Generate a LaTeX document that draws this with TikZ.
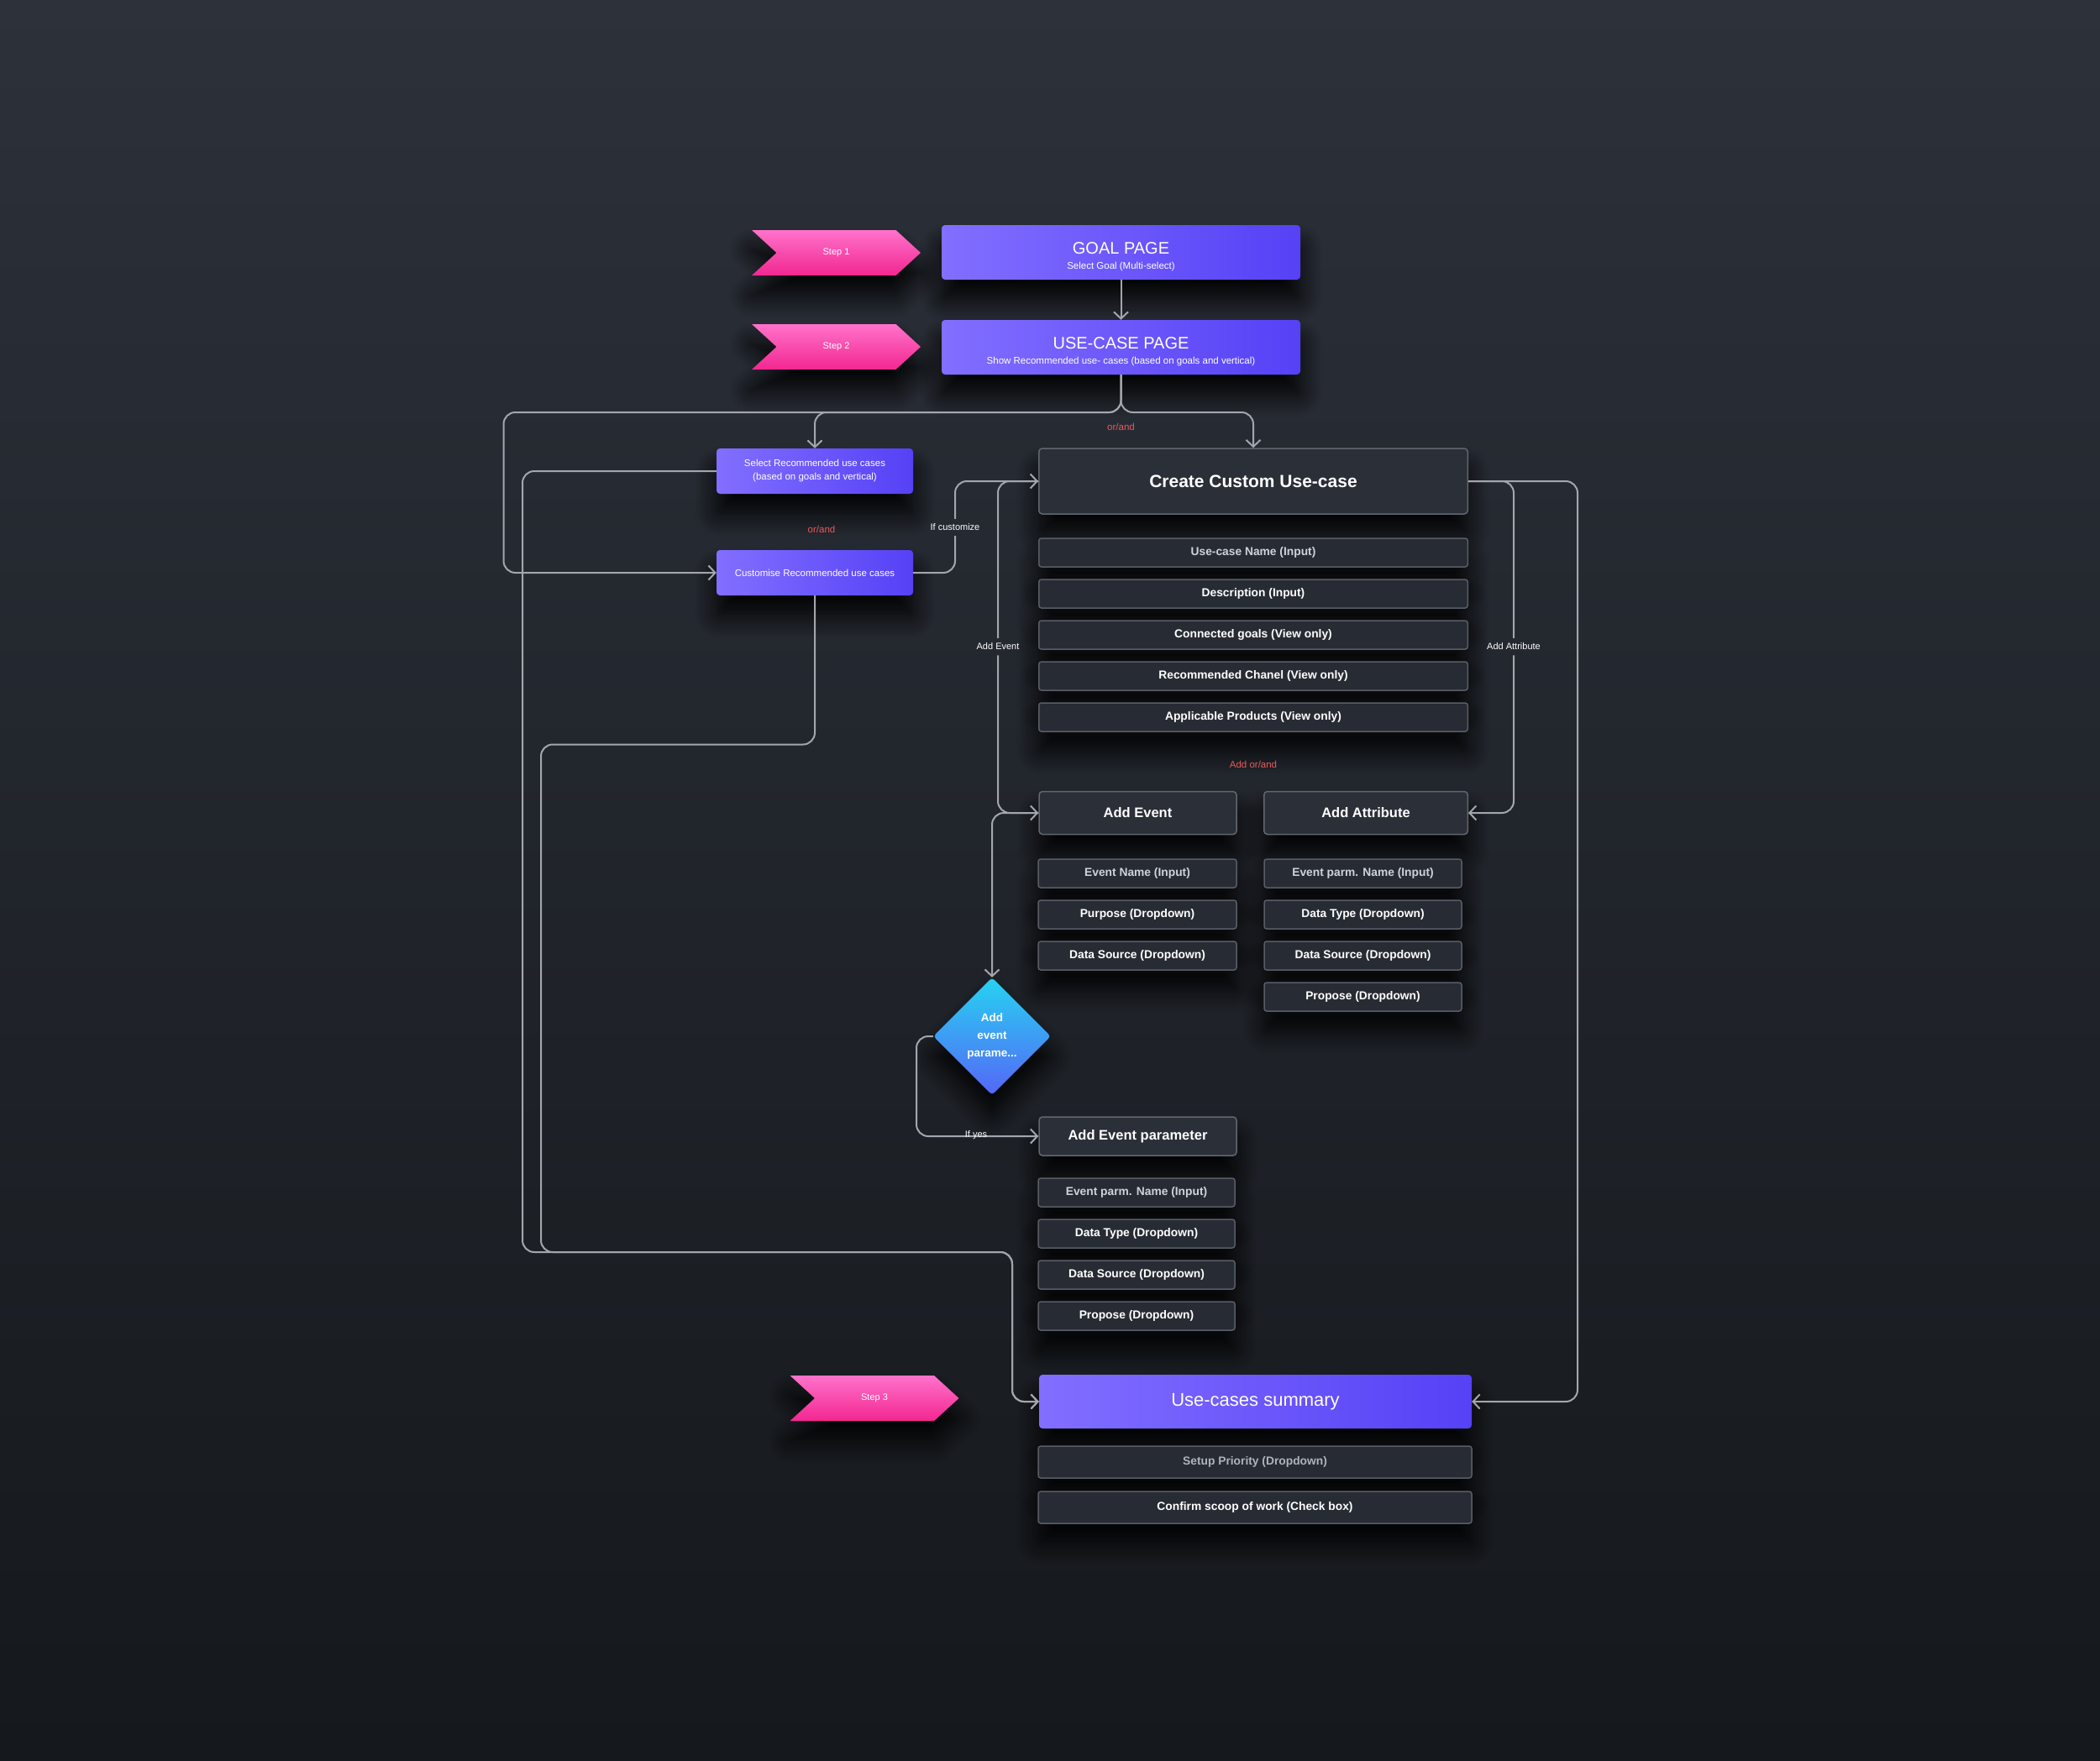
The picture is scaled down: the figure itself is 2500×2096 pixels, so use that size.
\documentclass[tikz,border=0pt]{standalone}
\usepackage{fontspec}
\setmainfont{Liberation Sans}
\usetikzlibrary{arrows.meta,shapes.symbols,shapes.geometric,shadows.blur,calc}
\newcommand\fsz[2]{\fontsize{#1}{#2}\selectfont}
\definecolor{bgT}{HTML}{2C313A}
\definecolor{bgB}{HTML}{15181C}
\definecolor{pL}{HTML}{826FFF}
\definecolor{pR}{HTML}{5641F6}
\definecolor{pkT}{HTML}{FF72CB}
\definecolor{pkB}{HTML}{F22790}
\definecolor{dF}{HTML}{2A2F38}
\definecolor{dB}{HTML}{62676F}
\definecolor{fF}{HTML}{272C34}
\definecolor{fB}{HTML}{585D66}
\definecolor{lc}{HTML}{A3A7AD}
\definecolor{rd}{HTML}{E55B5B}
\definecolor{cyT}{HTML}{26D3F2}
\definecolor{cyB}{HTML}{5566F6}
\definecolor{gt}{HTML}{D0D3D8}
\begin{document}
\begin{tikzpicture}[x=1pt,y=-1pt,
  shd/.style={blur shadow={shadow xshift=0pt,shadow yshift=-24pt,shadow blur radius=26pt,shadow opacity=95,shadow blur steps=14}},
  stepbox/.style={shd,signal,signal to=east,signal from=west,signal pointer angle=85,
    top color=pkT,bottom color=pkB,minimum width=201pt,minimum height=54pt,inner sep=0pt,
    text=white,font=\fsz{11}{13}},
  purplebox/.style={shd,rectangle,rounded corners=4pt,left color=pL,right color=pR,
    text=white,align=center,inner sep=0pt},
  pagetext/.style={text=white,align=center,inner sep=0pt,yshift=-5pt},
  darkmain/.style={shd,rectangle,rounded corners=4pt,fill=dF,draw=dB,line width=1.5pt,
    text=white,font=\bfseries,inner sep=0pt},
  field/.style={shd,rectangle,rounded corners=3pt,fill=fF,draw=fB,line width=1.5pt,
    text=white,font=\bfseries\fsz{13.8}{16},minimum height=34pt,inner sep=0pt},
  lbl/.style={text=white,font=\fsz{11}{13},inner sep=6pt},
  redlbl/.style={text=rd,font=\fsz{11.5}{13},inner sep=0pt},
  conn/.style={draw=lc,line width=2pt,rounded corners=14pt},
  arr/.style={conn,-{Straight Barb[length=8pt,width=17pt]}}
]
\useasboundingbox (0,0) rectangle (2500,2096);
\shade[top color=bgT,bottom color=bgB] (0,0) rectangle (2500,2096);

% coordinates used for routing
\coordinate (yS) at (0,491);
\coordinate (xL0) at (599.5,0);
\coordinate (xL1) at (622,0);
\coordinate (xL2) at (644,0);
\coordinate (yL2) at (0,886.5);
\coordinate (yB) at (0,1491);
\coordinate (xB) at (1205,0);
\coordinate (xR) at (1878,0);
\coordinate (xY) at (1091,0);

% step 1 / goal
\node[stepbox] (s1) at (995.5,301) {Step 1};
\node[purplebox,minimum width=427pt,minimum height=65pt,
  label={[pagetext]center:{{\fsz{20}{22}GOAL PAGE}\\[6pt]{\fsz{11.5}{12}Select Goal (Multi-select)}}}] (goal) at (1334.5,300.5) {};
\node[stepbox] (s2) at (995.5,413) {Step 2};
\node[purplebox,minimum width=427pt,minimum height=65pt,
  label={[pagetext]center:{{\fsz{20}{22}USE-CASE PAGE}\\[6pt]{\fsz{11.5}{12}Show Recommended use- cases (based on goals and vertical)}}}] (uc) at (1334.5,413.5) {};
\draw[arr] (goal.south) -- (uc.north);

\node[redlbl] (o1) at (1334.5,508) {or/and};

\node[purplebox,minimum width=234pt,minimum height=54pt,font=\fsz{11.5}{16}] (sel) at (970,561)
  {Select Recommended use cases\\(based on goals and vertical)};
\node[redlbl] (o2) at (978,630) {or/and};
\node[purplebox,minimum width=234pt,minimum height=54pt,font=\fsz{11.5}{16}] (cust) at (970,682)
  {Customise Recommended use cases};

\node[darkmain,minimum width=510.5pt,minimum height=78pt,font=\bfseries\fsz{21}{24}] (create) at (1492,573)
  {Create Custom Use-case};

\node[field,minimum width=510.5pt,text=gt] (f1) at (1492,658) {Use-case Name (Input)};
\node[field,minimum width=510.5pt] (f2) at (1492,707) {Description (Input)};
\node[field,minimum width=510.5pt] (f3) at (1492,756) {Connected goals (View only)};
\node[field,minimum width=510.5pt] (f4) at (1492,805) {Recommended Chanel (View only)};
\node[field,minimum width=510.5pt] (f5) at (1492,854) {Applicable Products (View only)};

\node[redlbl] (o3) at (1492,910) {Add or/and};

\node[darkmain,minimum width=235pt,minimum height=51pt,font=\bfseries\fsz{16.5}{19}] (ae) at (1354.5,968) {Add Event};
\node[darkmain,minimum width=242.5pt,minimum height=51pt,font=\bfseries\fsz{16.5}{19}] (aa) at (1626,968) {Add Attribute};

\node[field,minimum width=236pt,text=gt] (e1) at (1354,1040) {Event Name (Input)};
\node[field,minimum width=236pt] (e2) at (1354,1089) {Purpose (Dropdown)};
\node[field,minimum width=236pt] (e3) at (1354,1138) {Data Source (Dropdown)};

\node[field,minimum width=235pt,text=gt] (a1) at (1622.5,1040) {Event parm. Name (Input)};
\node[field,minimum width=235pt] (a2) at (1622.5,1089) {Data Type (Dropdown)};
\node[field,minimum width=235pt] (a3) at (1622.5,1138) {Data Source (Dropdown)};
\node[field,minimum width=235pt] (a4) at (1622.5,1187) {Propose (Dropdown)};

\node[shd,diamond,rounded corners=4pt,top color=cyT,bottom color=cyB,minimum width=140pt,minimum height=140pt,
  inner sep=0pt,text=white,align=center,font=\bfseries\fsz{13.5}{20.7}] (dia) at (1181,1234) {Add\\event\\parame...};

\node[darkmain,minimum width=235pt,minimum height=46pt,font=\bfseries\fsz{16.5}{19}] (aep) at (1354.5,1353) {Add Event parameter};

\node[field,minimum width=234pt,text=gt] (p1) at (1353,1420) {Event parm. Name (Input)};
\node[field,minimum width=234pt] (p2) at (1353,1469) {Data Type (Dropdown)};
\node[field,minimum width=234pt] (p3) at (1353,1518) {Data Source (Dropdown)};
\node[field,minimum width=234pt] (p4) at (1353,1567) {Propose (Dropdown)};

\node[stepbox] (s3) at (1041,1665) {Step 3};
\node[purplebox,minimum width=515pt,minimum height=64pt,font=\fsz{22}{26}] (sum) at (1494.5,1669) {Use-cases summary};
\node[field,minimum width=516pt,minimum height=38pt,text=gt!85!black] (u1) at (1494,1741) {Setup Priority (Dropdown)};
\node[field,minimum width=516pt,minimum height=38pt] (u2) at (1494,1795) {Confirm scoop of work (Check box)};

% labels
\node[lbl] (lC) at (1137,628) {If customize};
\node[lbl] (lE) at (1188,770) {Add Event};
\node[lbl] (lA) at (1802,770) {Add Attribute};

% connectors between nodes
\draw[arr] (uc.south) |- (yS -| sel.north) -- (sel.north);
\draw[arr] (uc.south) |- (yS -| create.north) -- (create.north);
\draw[arr] (uc.south) |- (yS -| xL0) |- (cust.west);

\draw[conn] (cust.east) -| (lC.south);
\draw[arr] (lC.north) |- (create.west);
\draw[conn] (create.west) -| (lE.north);
\draw[arr] (lE.south) |- (ae.west);
\draw[arr] (ae.west) -| (dia.north);
\draw[arr] (dia.west) -| (xY |- aep.west) -- (aep.west);
\node[text=white,font=\fsz{11}{13},inner sep=0pt] (ly) at (1162,1352) {If yes};

\draw[conn] (create.east) -| (lA.north);
\draw[arr] (lA.south) |- (aa.east);
\draw[arr] (create.east) -| (xR |- sum.east) -- (sum.east);

\draw[arr] (sel.west) -| (xL1 |- yB) -| (xB |- sum.west) -- (sum.west);
\draw[arr] (cust.south) |- (xL2 |- yL2) |- (xB |- yB) |- (sum.west);
\end{tikzpicture}
\end{document}
